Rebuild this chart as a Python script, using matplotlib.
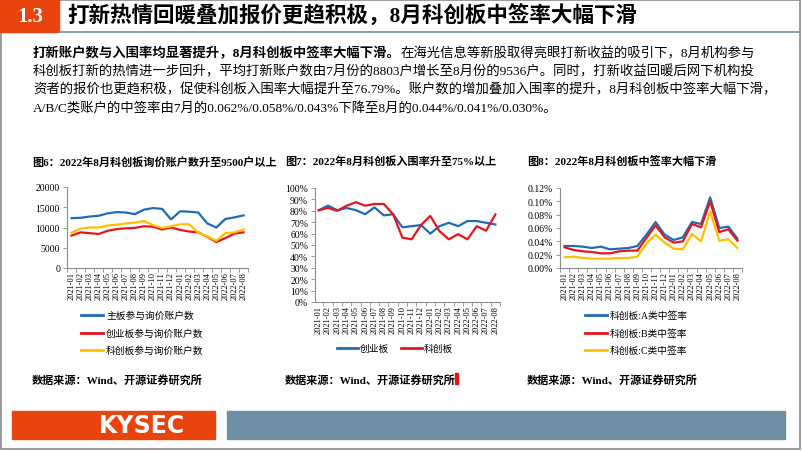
import matplotlib
matplotlib.use('Agg')
import matplotlib.pyplot as plt
from matplotlib.patches import Rectangle
from matplotlib.ticker import FuncFormatter

plt.rcParams['font.family'] = ['Liberation Serif', 'Noto Sans CJK SC', 'DejaVu Sans']

months = ['2021-01', '2021-02', '2021-03', '2021-04', '2021-05', '2021-06', '2021-07',
          '2021-08', '2021-09', '2021-10', '2021-11', '2021-12', '2022-01', '2022-02',
          '2022-03', '2022-04', '2022-05', '2022-06', '2022-07', '2022-08']

# 图6 询价账户数
main_board = [12300, 12400, 12700, 12900, 13500, 13800, 13700, 13300, 14400, 14800,
              14600, 12000, 14000, 13900, 13700, 11000, 10000, 12100, 12500, 13000]
gem_board = [8000, 8800, 8600, 8400, 9200, 9600, 9800, 9900, 10300, 10200,
             9500, 10000, 9400, 9000, 8800, 7700, 6400, 7400, 8500, 8800]
star_board = [8700, 9700, 10000, 10000, 10500, 10700, 11000, 11200, 11600, 10600,
              9900, 10300, 10800, 10800, 8700, 7800, 6700, 8600, 8800, 9500]

# 图7 入围率 (%)
gem_rate = [80.5, 84.5, 80.5, 82.5, 80.5, 77, 83, 76, 77, 65.5,
            66.5, 67.5, 60, 66.5, 69.5, 66.5, 71, 71, 69.5, 68]
star_rate = [80.5, 82.5, 80, 84.5, 87.5, 84.5, 86, 86, 77, 56.5,
             55, 67.5, 75.5, 62, 55, 59.5, 55, 66.5, 62.5, 76.79]

# 图8 中签率 (%)
rate_a = [0.033, 0.033, 0.032, 0.030, 0.032, 0.028, 0.029, 0.030, 0.033, 0.050,
          0.069, 0.050, 0.042, 0.046, 0.069, 0.066, 0.106, 0.060, 0.062, 0.044]
rate_b = [0.031, 0.027, 0.025, 0.024, 0.022, 0.022, 0.025, 0.026, 0.026, 0.045,
          0.064, 0.046, 0.038, 0.040, 0.066, 0.061, 0.100, 0.054, 0.058, 0.041]
rate_c = [0.016, 0.017, 0.015, 0.014, 0.014, 0.014, 0.015, 0.015, 0.017, 0.037,
          0.050, 0.038, 0.029, 0.028, 0.051, 0.040, 0.085, 0.041, 0.043, 0.030]

BLUE = '#1f6db5'
RED = '#e8141c'
YELLOW = '#ffc000'
ORANGE = '#e9440d'
STEEL = '#6e8fa3'
AXC = '#8c8c8c'

W, H = 802, 452
fig = plt.figure(figsize=(W / 100, H / 100), dpi=100)

bg = fig.add_axes([0, 0, 1, 1])
bg.set_xlim(0, W)
bg.set_ylim(H, 0)
bg.axis('off')

# slide frame and header
bg.add_patch(Rectangle((0.5, 0.5), W - 2.5, H - 2.5, fill=False, ec='#8a8a8a', lw=1.2))
bg.add_patch(Rectangle((0, 0), 59, 33, color=ORANGE))
bg.plot([59, 799], [33, 33], color=STEEL, lw=1.2)
bg.text(30, 17, '1.3', color='white', fontsize=15, fontweight='bold', ha='center', va='center')
bg.text(67, 17, '打新热情回暖叠加报价更趋积极，8月科创板中签率大幅下滑',
        fontsize=15.5, fontweight='bold', ha='left', va='center')

# body text
fs = 9.6
t_bold = bg.text(33, 54, '打新账户数与入围率均显著提升，8月科创板中签率大幅下滑。',
                 fontsize=fs, fontweight='bold', va='center')
fig.canvas.draw()
bold_w = t_bold.get_window_extent().width
bg.text(33 + bold_w, 54, '在海光信息等新股取得亮眼打新收益的吸引下，8月机构参与',
        fontsize=fs, va='center')
bg.text(33, 72, '科创板打新的热情进一步回升，平均打新账户数由7月份的8803户增长至8月份的9536户。同时，打新收益回暖后网下机构投',
        fontsize=fs, va='center')
bg.text(33, 90, '资者的报价也更趋积极，促使科创板入围率大幅提升至76.79%。账户数的增加叠加入围率的提升，8月科创板中签率大幅下滑，',
        fontsize=fs, va='center')
bg.text(33, 108, 'A/B/C类账户的中签率由7月的0.062%/0.058%/0.043%下降至8月的0.044%/0.041%/0.030%。',
        fontsize=fs, va='center')

# chart titles / sources
bg.text(32, 162, '图6：2022年8月科创板询价账户数升至9500户以上', fontsize=8, fontweight='bold', va='center')
bg.text(285, 162, '图7：2022年8月科创板入围率升至75%以上', fontsize=8, fontweight='bold', va='center')
bg.text(527, 162, '图8：2022年8月科创板中签率大幅下滑', fontsize=8, fontweight='bold', va='center')
for x in (32, 285, 527):
    bg.text(x, 380, '数据来源：Wind、开源证券研究所', fontsize=8, fontweight='bold', va='center')
bg.add_patch(Rectangle((455, 374), 2.5, 11, color=RED))

# footer
bg.add_patch(Rectangle((12, 412), 203, 28, color=ORANGE))
bg.add_patch(Rectangle((227, 412), 558, 28, color=STEEL))
bg.text(142, 426, 'KYSEC', color='white', fontsize=17, fontweight='bold',
        family='DejaVu Sans', ha='center', va='center')


def px_axes(l, t, r, b):
    return fig.add_axes([l / W, 1 - b / H, (r - l) / W, (b - t) / H])


def style(ax, ylim, yticks, fmt):
    x = list(range(len(months)))
    ax.set_xlim(-0.5, len(months) - 0.5)
    ax.set_ylim(*ylim)
    ax.set_yticks(yticks)
    ax.yaxis.set_major_formatter(FuncFormatter(fmt))
    ax.set_xticks(x)
    ax.set_xticklabels(months, rotation=90, fontsize=6)
    ax.set_xticks([i - 0.5 for i in range(len(months) + 1)], minor=True)
    ax.tick_params(axis='x', which='major', length=0, pad=2)
    ax.tick_params(axis='x', which='minor', length=3, color=AXC, width=0.6)
    ax.tick_params(axis='y', length=3, color=AXC, width=0.6, labelsize=7, pad=2)
    for s in ('top', 'right'):
        ax.spines[s].set_visible(False)
    for s in ('left', 'bottom'):
        ax.spines[s].set_color(AXC)
        ax.spines[s].set_linewidth(0.8)
    ax.patch.set_alpha(0)


def legend_rows(entries, x0, ys):
    for (label, color), y in zip(entries, ys):
        bg.plot([x0, x0 + 22], [y, y], color=color, lw=2)
        bg.text(x0 + 25, y, label, fontsize=7, va='center')


x = list(range(len(months)))

# 图6
ax1 = px_axes(67, 188, 248, 269)
ax1.plot(x, main_board, color=BLUE, lw=1.6)
ax1.plot(x, gem_board, color=RED, lw=1.6)
ax1.plot(x, star_board, color=YELLOW, lw=1.6)
style(ax1, (0, 20000), [0, 5000, 10000, 15000, 20000], lambda v, p: f'{v:.0f}')
legend_rows([('主板参与询价账户数', BLUE), ('创业板参与询价账户数', RED),
             ('科创板参与询价账户数', YELLOW)], 81, [316, 334, 351])

# 图7
ax2 = px_axes(315, 189, 500, 303)
ax2.plot(x, gem_rate, color=BLUE, lw=1.6)
ax2.plot(x, star_rate, color=RED, lw=1.6)
style(ax2, (0, 100), list(range(0, 101, 10)), lambda v, p: f'{v:.0f}%')
ax2.set_xlim(-0.4, len(months) - 0.5)
bg.plot([337, 358], [349, 349], color=BLUE, lw=2)
bg.text(360, 349, '创业板', fontsize=7, va='center')
bg.plot([401, 422], [349, 349], color=RED, lw=2)
bg.text(424, 349, '科创板', fontsize=7, va='center')

# 图8
ax3 = px_axes(560, 189, 742, 269)
ax3.plot(x, rate_a, color=BLUE, lw=1.6)
ax3.plot(x, rate_b, color=RED, lw=1.6)
ax3.plot(x, rate_c, color=YELLOW, lw=1.6)
style(ax3, (0, 0.12), [0, 0.02, 0.04, 0.06, 0.08, 0.10, 0.12], lambda v, p: f'{v:.2f}%')
legend_rows([('科创板:A类中签率', BLUE), ('科创板:B类中签率', RED),
             ('科创板:C类中签率', YELLOW)], 585, [316, 334, 351])

fig.savefig('out.png', dpi=100)
